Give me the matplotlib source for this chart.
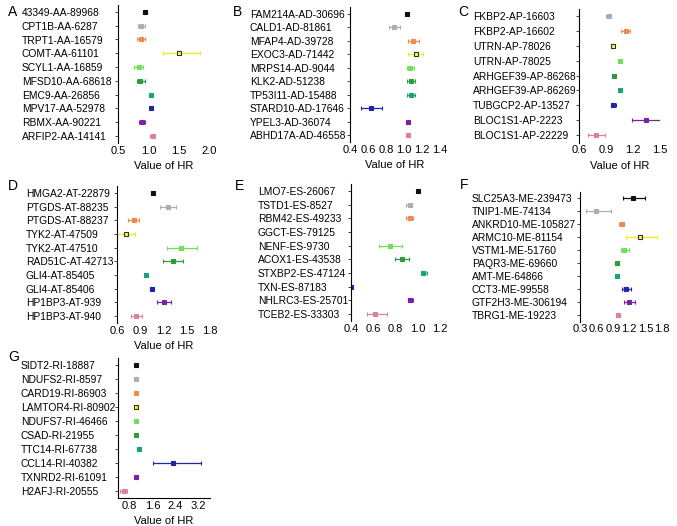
import matplotlib
matplotlib.use("Agg")
import matplotlib.pyplot as plt
import numpy as np

plt.rcParams['font.family'] = ['Liberation Sans', 'DejaVu Sans']

# --- data: labels, HR, lower CI, upper CI per panel ---
a_labels = ["43349-AA-89968", "CPT1B-AA-6287", "TRPT1-AA-16579", "COMT-AA-61101",
            "SCYL1-AA-16859", "MFSD10-AA-68618", "EMC9-AA-26856", "MPV17-AA-52978",
            "RBMX-AA-90221", "ARFIP2-AA-14141"]
a_hr = [0.94, 0.88, 0.88, 1.51, 0.85, 0.87, 1.04, 1.04, 0.89, 1.07]
a_lo = [0.91, 0.83, 0.81, 1.24, 0.77, 0.82, 1.02, 1.02, 0.84, 1.03]
a_hi = [0.97, 0.94, 0.95, 1.85, 0.92, 0.94, 1.06, 1.06, 0.94, 1.10]

b_labels = ["FAM214A-AD-30696", "CALD1-AD-81861", "MFAP4-AD-39728", "EXOC3-AD-71442",
            "MRPS14-AD-9044", "KLK2-AD-51238", "TP53I11-AD-15488", "STARD10-AD-17646",
            "YPEL3-AD-36074", "ABHD17A-AD-46558"]
b_hr = [1.03, 0.89, 1.10, 1.13, 1.07, 1.08, 1.08, 0.63, 1.04, 1.04]
b_lo = [1.02, 0.83, 1.04, 1.05, 1.03, 1.03, 1.03, 0.52, 1.02, 1.02]
b_hi = [1.04, 0.96, 1.17, 1.21, 1.11, 1.12, 1.12, 0.76, 1.06, 1.06]

c_labels = ["FKBP2-AP-16603", "FKBP2-AP-16602", "UTRN-AP-78026", "UTRN-AP-78025",
            "ARHGEF39-AP-86268", "ARHGEF39-AP-86269", "TUBGCP2-AP-13527",
            "BLOC1S1-AP-2223", "BLOC1S1-AP-22229"]
c_hr = [0.93, 1.12, 0.98, 1.06, 0.99, 1.06, 0.98, 1.34, 0.79]
c_lo = [0.90, 1.07, 0.96, 1.04, 0.97, 1.04, 0.95, 1.19, 0.70]
c_hi = [0.96, 1.17, 1.00, 1.08, 1.01, 1.08, 1.01, 1.51, 0.89]

d_labels = ["HMGA2-AT-22879", "PTGDS-AT-88235", "PTGDS-AT-88237", "TYK2-AT-47509",
            "TYK2-AT-47510", "RAD51C-AT-42713", "GLI4-AT-85405", "GLI4-AT-85406",
            "HP1BP3-AT-939", "HP1BP3-AT-940"]
d_hr = [1.06, 1.26, 0.82, 0.71, 1.42, 1.32, 0.97, 1.05, 1.20, 0.84]
d_lo = [1.04, 1.16, 0.74, 0.55, 1.24, 1.19, 0.95, 1.03, 1.12, 0.78]
d_hi = [1.08, 1.36, 0.88, 0.83, 1.63, 1.45, 0.99, 1.07, 1.30, 0.92]

e_labels = ["LMO7-ES-26067", "TSTD1-ES-8527", "RBM42-ES-49233", "GGCT-ES-79125",
            "NENF-ES-9730", "ACOX1-ES-43538", "STXBP2-ES-47124", "TXN-ES-87183",
            "NHLRC3-ES-25701", "TCEB2-ES-33303"]
e_hr = [1.00, 0.93, 0.93, np.nan, 0.75, 0.86, 1.05, 0.40, 0.93, 0.62]
e_lo = [0.99, 0.89, 0.89, np.nan, 0.65, 0.80, 1.03, 0.39, 0.91, 0.54]
e_hi = [1.01, 0.95, 0.96, np.nan, 0.86, 0.92, 1.08, 0.41, 0.96, 0.72]

f_labels = ["SLC25A3-ME-239473", "TNIP1-ME-74134", "ANKRD10-ME-105827", "ARMC10-ME-81154",
            "VSTM1-ME-51760", "PAQR3-ME-69660", "AMT-ME-64866", "CCT3-ME-99558",
            "GTF2H3-ME-306194", "TBRG1-ME-19223"]
f_hr = [1.27, 0.59, 1.07, 1.39, 1.11, 0.97, 0.97, 1.15, 1.20, 0.99]
f_lo = [1.09, 0.41, 1.02, 1.15, 1.05, 0.94, 0.94, 1.07, 1.10, 0.97]
f_hi = [1.48, 0.87, 1.11, 1.71, 1.19, 1.02, 1.02, 1.24, 1.30, 1.01]

g_labels = ["SIDT2-RI-18887", "NDUFS2-RI-8597", "CARD19-RI-86903", "LAMTOR4-RI-80902",
            "NDUFS7-RI-46466", "CSAD-RI-21955", "TTC14-RI-67738", "CCL14-RI-40382",
            "TXNRD2-RI-61091", "H2AFJ-RI-20555"]
g_hr = [1.03, 1.03, 1.03, 1.03, 1.03, 1.02, 1.12, 2.31, 1.03, 0.60]
g_lo = [1.01, 1.01, 1.01, 1.01, 1.01, 1.00, 1.06, 1.63, 1.01, 0.47]
g_hi = [1.05, 1.05, 1.05, 1.05, 1.05, 1.04, 1.18, 3.29, 1.05, 0.73]

# row colours (C starts at the second one)
palette = ['#111111', '#b3a9bb', '#f08a50', '#f2ec10', '#6ee05a',
           '#2e9b3c', '#1aa37a', '#2424a8', '#7a22a6', '#dc8296']

W, H = 677, 526
TICKLEN = 2.5
fig = plt.figure(figsize=(W / 100, H / 100), dpi=100)


# axes from pixel box (left, top, right, bottom)
def px_axes(l, t, r, b):
    return fig.add_axes([l / W, 1 - b / H, (r - l) / W, (b - t) / H])


def forest(box, text_x, labels, hr, lo, hi, xlim, ticks, ticklabels,
           xlabel=True, bottom=False, col0=0):
    ax = px_axes(*box)
    n = len(labels)
    for i in range(n):
        if np.isnan(hr[i]):
            continue
        c = palette[col0 + i]
        hollow = c == '#f2ec10'
        ax.errorbar(hr[i], i, xerr=[[hr[i] - lo[i]], [hi[i] - hr[i]]],
                    fmt='s', color=c, ms=3 if hollow else 2.2,
                    mfc='none' if hollow else c,
                    mec='#333300' if hollow else c, mew=0.8,
                    elinewidth=0.9, capsize=1.2, capthick=0.8)
    ax.set_ylim(n - 0.5, -0.5)
    ax.set_xlim(*xlim)
    ax.set_yticks(range(n))
    ax.set_yticklabels(labels, fontsize=7.35)
    # labels are left aligned at text_x (pixels)
    pad = (box[0] - text_x) * 0.72 - TICKLEN
    for lbl in ax.get_yticklabels():
        lbl.set_horizontalalignment('left')
    ax.set_xticks(ticks)
    ax.set_xticklabels(ticklabels, fontsize=8.0)
    ax.tick_params(axis='y', length=TICKLEN, width=0.7, pad=pad, color='#444444')
    ax.tick_params(axis='x', length=0, pad=2)
    for s in ['top', 'right']:
        ax.spines[s].set_visible(False)
    ax.spines['bottom'].set_visible(bottom)
    ax.spines['bottom'].set_linewidth(0.8)
    ax.spines['left'].set_linewidth(0.8)
    ax.set_facecolor('none')
    if xlabel:
        ax.set_xlabel('Value of HR', fontsize=8.0, labelpad=4)
    return ax


forest((118, 5, 209, 143), 22, a_labels, a_hr, a_lo, a_hi, (0.5, 2.0),
       [0.5, 1.0, 1.5, 2.0], ['0.5', '1.0', '1.5', '2.0'])
forest((350, 7, 440, 142), 250, b_labels, b_hr, b_lo, b_hi, (0.4, 1.4),
       [0.4, 0.6, 0.8, 1.0, 1.2, 1.4], ['0.4', '0.6', '0.8', '1.0', '1.2', '1.4'])
forest((579, 8.5, 660, 142.5), 473, c_labels, c_hr, c_lo, c_hi, (0.6, 1.5),
       [0.6, 0.9, 1.2, 1.5], ['0.6', '0.9', '1.2', '1.5'], col0=1)
forest((117, 186, 210, 323), 26, d_labels, d_hr, d_lo, d_hi, (0.6, 1.8),
       [0.6, 0.9, 1.2, 1.5, 1.8], ['0.6', '0.9', '1.2', '1.5', '1.8'])
forest((351, 184, 440, 321), 258, e_labels, e_hr, e_lo, e_hi, (0.4, 1.2),
       [0.4, 0.6, 0.8, 1.0, 1.2], ['0.4', '0.6', '0.8', '1.0', '1.2'], xlabel=False)
forest((580, 191.5, 662, 321.5), 472, f_labels, f_hr, f_lo, f_hi, (0.3, 1.8),
       [0.3, 0.6, 0.9, 1.2, 1.5, 1.8], ['0.3', '0.6', '0.9', '1.2', '1.5', '1.8'],
       xlabel=False)
forest((118, 358, 210, 498), 21, g_labels, g_hr, g_lo, g_hi, (0.4, 3.6),
       [0.8, 1.6, 2.4, 3.2], ['0.8', '1.6', '2.4', '3.2'], bottom=True)

# panel letters
for letter, (x, y) in zip('ABCDEFG', [(8, 12), (233, 12), (458, 12), (8, 186),
                                      (235, 186), (460, 185), (8, 357)]):
    fig.text(x / W, 1 - y / H, letter, fontsize=10, ha='left', va='center')

fig.savefig('out.png', dpi=100)
